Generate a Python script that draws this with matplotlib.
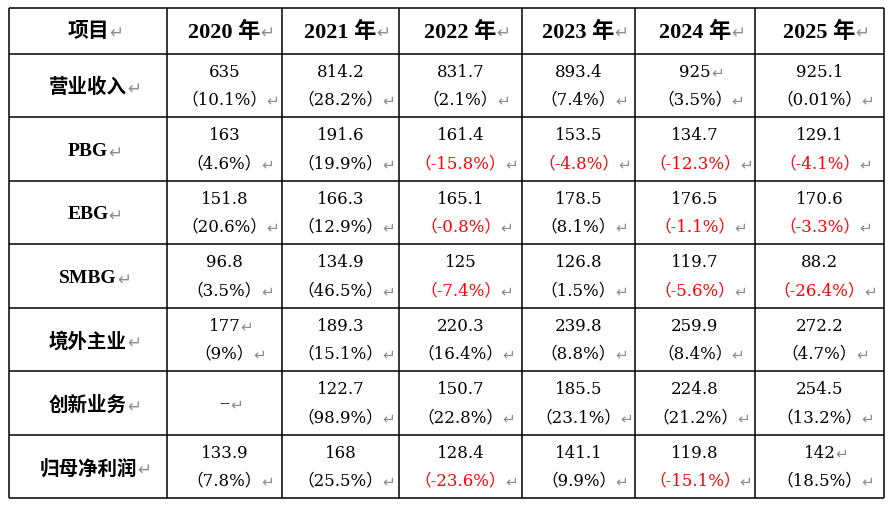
import matplotlib.pyplot as plt

# 数据
years = ['2020 年', '2021 年', '2022 年', '2023 年', '2024 年', '2025 年']
items = ['营业收入', 'PBG', 'EBG', 'SMBG', '境外主业', '创新业务', '归母净利润']

rev = ['635', '814.2', '831.7', '893.4', '925↵', '925.1']
rev_g = [10.1, 28.2, 2.1, 7.4, 3.5, 0.01]
pbg = ['163', '191.6', '161.4', '153.5', '134.7', '129.1']
pbg_g = [4.6, 19.9, -15.8, -4.8, -12.3, -4.1]
ebg = ['151.8', '166.3', '165.1', '178.5', '176.5', '170.6']
ebg_g = [20.6, 12.9, -0.8, 8.1, -1.1, -3.3]
smbg = ['96.8', '134.9', '125', '126.8', '119.7', '88.2']
smbg_g = [3.5, 46.5, -7.4, 1.5, -5.6, -26.4]
overseas = ['177↵', '189.3', '220.3', '239.8', '259.9', '272.2']
overseas_g = [9, 15.1, 16.4, 8.8, 8.4, 4.7]
innov = ['--↵', '122.7', '150.7', '185.5', '224.8', '254.5']
innov_g = [None, 98.9, 22.8, 23.1, 21.2, 13.2]
profit = ['133.9', '168', '128.4', '141.1', '119.8', '142↵']
profit_g = [7.8, 25.5, -23.6, 9.9, -15.1, 18.5]

values = [rev, pbg, ebg, smbg, overseas, innov, profit]
growth = [rev_g, pbg_g, ebg_g, smbg_g, overseas_g, innov_g, profit_g]

# 表格网格 (像素)
col_x = [9, 167, 282, 399, 522, 635, 755, 884]
row_y = [9, 55, 118, 182, 245, 309, 372, 436, 499]

head_font = ['Liberation Serif', 'Noto Sans CJK SC', 'DejaVu Sans']
num_font = ['DejaVu Serif', 'Noto Sans CJK SC', 'DejaVu Sans']
arrow_c = '#8c8c8c'
H = 506

fig = plt.figure(figsize=(8.9, 5.06), dpi=100)
ax = fig.add_axes([0, 0, 1, 1])
ax.set_xlim(0, 890)
ax.set_ylim(H, 0)
ax.axis('off')

ax.hlines(row_y, col_x[0], col_x[-1], color='black', lw=1.1)
ax.vlines(col_x, row_y[0], row_y[-1], color='black', lw=1.1)

r = fig.canvas.get_renderer()


def put(x, y, s, gap=0, asize=11, **kw):
    # 文本 + 灰色回车符
    arrow = s.endswith('↵')
    s = s.rstrip('↵')
    t = ax.text(x, y, s, ha='center', va='center', **kw)
    if arrow:
        bb = t.get_window_extent(renderer=r)
        ay = H - (bb.y0 + bb.y1) / 2 + 1
        ax.text(bb.x1 + gap, ay, '↵', ha='left', va='center',
                fontsize=asize, color=arrow_c, family='DejaVu Sans')


# 表头
put((col_x[0] + col_x[1]) / 2, (row_y[0] + row_y[1]) / 2, '项目↵',
    fontsize=15, fontweight='bold', family=head_font, asize=12)
for j, yr in enumerate(years):
    cx = (col_x[j + 1] + col_x[j + 2]) / 2
    put(cx, (row_y[0] + row_y[1]) / 2, yr + '↵',
        fontsize=16, fontweight='bold', family=head_font, asize=12)

# 行
for i, name in enumerate(items):
    top, bot = row_y[i + 1], row_y[i + 2]
    h = bot - top
    put((col_x[0] + col_x[1]) / 2, top + h * 0.52, name + '↵',
        fontsize=14, fontweight='bold', family=head_font, asize=12)
    for j in range(6):
        cx = (col_x[j + 1] + col_x[j + 2]) / 2
        v = values[i][j]
        g = growth[i][j]
        if g is None:
            put(cx, top + h * 0.5, v, fontsize=12, family=num_font)
            continue
        put(cx, top + h * 0.27, v, fontsize=12, family=num_font)
        col = 'red' if g < 0 else 'black'
        put(cx, top + h * 0.71, '（%s%%）↵' % g, gap=-1,
            fontsize=12, family=num_font, color=col)

fig.savefig('out.png', dpi=100)
